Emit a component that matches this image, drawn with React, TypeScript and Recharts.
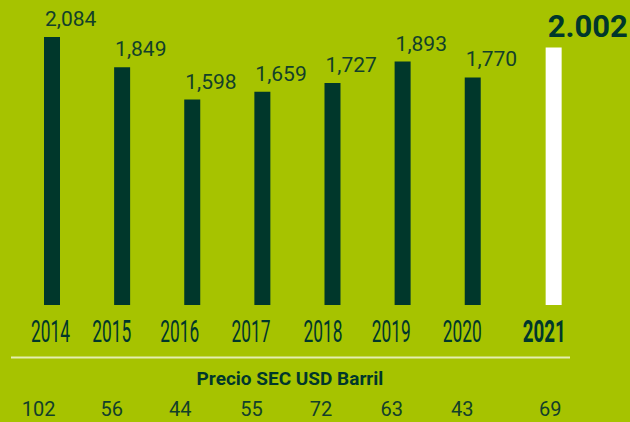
import React from "react";
import { BarChart, Bar, XAxis, YAxis, LabelList, Cell, Customized } from "recharts";

const years = ["2014", "2015", "2016", "2017", "2018", "2019", "2020", "2021"];
const values = [2084, 1849, 1598, 1659, 1727, 1893, 1770, 2002];
const prices = [102, 56, 44, 55, 72, 63, 43, 69];
const priceTitle = "Precio SEC USD Barril";

// layout constants
const W = 630;
const H = 422;
const BG = "#a6c300";
const DARK = "#00372b";
const HILITE_GAP = 0.154;
const AXIS_H = 30;
const MARGIN = { top: 5, right: 38, bottom: 117 - AXIS_H, left: 17 };
const PLOT_BOTTOM = 305;
const yearNudge = [-1.5, -10.5, -12.5, -11.5, -9.5, -11.5, -10.5, -9.5];
const priceNudge = [-13.5, -10.5, -12, -11, -11.5, -11, -10.5, -3.5];

const last = years.length - 1;
const data = years.map((y, i) => ({
  year: y,
  value: values[i],
  price: prices[i],
  pos: i + (i === last ? HILITE_GAP : 0),
}));
const positions = data.map((d) => d.pos);
const FONT = "Roboto, 'DejaVu Sans', sans-serif";

const ValueLabel = (props: any) => {
  const { x, y, index, value } = props;
  const isLast = index === last;
  const text = isLast
    ? Number(value).toLocaleString("de-DE")
    : Number(value).toLocaleString("en-US");
  return (
    <text
      x={x + (isLast ? 2 : 1)}
      y={y - 11}
      textAnchor="start"
      fontFamily={FONT}
      fontSize={isLast ? 31 : 21}
      fontWeight={isLast ? 700 : 400}
      fill={isLast ? DARK : "#12402a"}
    >
      {text}
    </text>
  );
};

const YearTick = (props: any) => {
  const { x, payload } = props;
  const i = positions.findIndex((p) => Math.abs(p - payload.value) < 1e-6);
  if (i < 0) return null;
  const isLast = i === last;
  return (
    <g>
      <text
        x={x + yearNudge[i]}
        y={PLOT_BOTTOM + 37}
        textAnchor="middle"
        fontFamily={FONT}
        fontSize={31}
        fontWeight={isLast ? 700 : 400}
        fill={DARK}
        textLength={isLast ? 43 : 39}
        lengthAdjust="spacingAndGlyphs"
      >
        {years[i]}
      </text>
      <text
        x={x + priceNudge[i]}
        y={PLOT_BOTTOM + 111}
        textAnchor="middle"
        fontFamily={FONT}
        fontSize={20}
        fill="#12402a"
      >
        {prices[i]}
      </text>
    </g>
  );
};

const Extras = () => (
  <g>
    <line x1={11} x2={570} y1={PLOT_BOTTOM + 52.5} y2={PLOT_BOTTOM + 52.5} stroke="#e4eeb0" strokeWidth={2} />
    <text
      x={290}
      y={PLOT_BOTTOM + 80}
      textAnchor="middle"
      fontFamily={FONT}
      fontSize={19}
      fontWeight={700}
      fill={DARK}
    >
      {priceTitle}
    </text>
  </g>
);

export default function App() {
  return (
    <div style={{ position: "absolute", left: 0, top: 0, width: W, height: H, background: BG, overflow: "hidden" }}>
      <BarChart width={W} height={H} data={data} margin={MARGIN}>
        <XAxis
          type="number"
          dataKey="pos"
          domain={[-0.5, 7.7]}
          ticks={positions}
          tick={<YearTick />}
          axisLine={false}
          tickLine={false}
          interval={0}
          height={AXIS_H}
          allowDataOverflow
        />
        <YAxis hide domain={[0, 2333]} allowDataOverflow />
        <Bar dataKey="value" barSize={16} isAnimationActive={false}>
          {data.map((d, i) => (
            <Cell key={d.year} fill={i === last ? "#ffffff" : DARK} />
          ))}
          <LabelList dataKey="value" content={<ValueLabel />} />
        </Bar>
        <Customized component={Extras} />
      </BarChart>
    </div>
  );
}
